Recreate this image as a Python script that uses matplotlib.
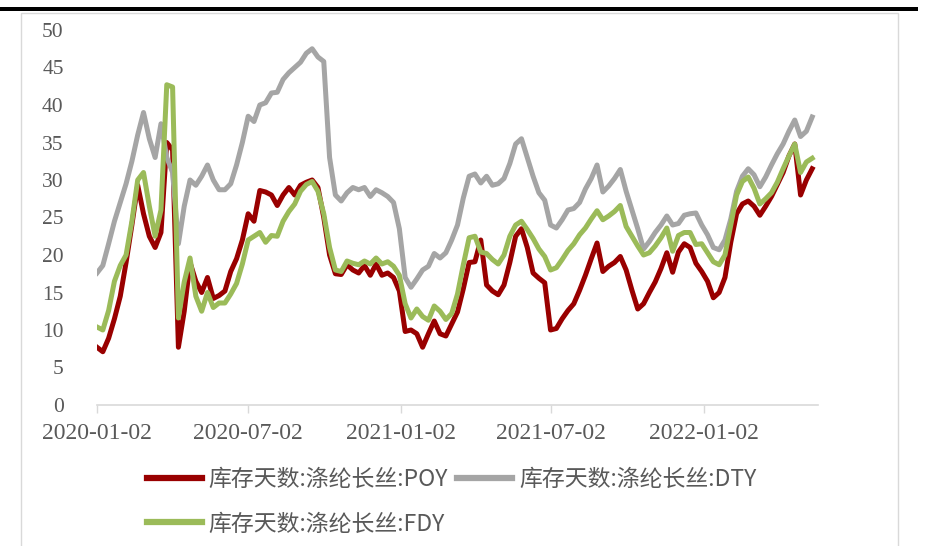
import numpy as np
import pandas as pd
import matplotlib
matplotlib.use("Agg")
import matplotlib.pyplot as plt
import matplotlib.dates as mdates
from matplotlib.lines import Line2D
from matplotlib.patches import Rectangle

# weekly observations starting 2020-01-02
dates = pd.date_range("2020-01-02", periods=124, freq="7D")

poy = [7.7, 7.1, 8.9, 11.5, 14.5, 19, 24, 29.3, 25.5, 22.5,
       21, 23, 35, 34, 7.7, 12.5, 19, 16.5, 15, 17,
       14.2, 14.6, 15.2, 17.8, 19.5, 22, 25.5, 24.5, 28.6, 28.4,
       28, 26.6, 28, 29, 28, 29.3, 29.7, 30, 29, 25,
       20, 17.5, 17.4, 18.7, 18, 17.6, 18.6, 17.3, 18.8, 17.3,
       17.6, 17, 15.2, 9.8, 10, 9.5, 7.7, 9.5, 11.2, 9.5,
       9.2, 10.8, 12.4, 15.5, 19, 19.1, 22, 16, 15.2, 14.7,
       16, 19, 22.5, 23.5, 21, 17.6, 16.9, 16.3, 10, 10.2,
       11.5, 12.6, 13.5, 15.3, 17.3, 19.5, 21.6, 17.8, 18.5, 19,
       19.8, 18, 15.3, 12.8, 13.5, 15, 16.4, 18.2, 20.3, 17.7,
       20.4, 21.5, 21, 18.9, 17.8, 16.5, 14.3, 15, 17, 21.7,
       25.5, 26.8, 27.2, 26.5, 25.3, 26.5, 27.8, 29.4, 31, 33.2,
       34.8, 28, 30, 31.5]

dty = [17.6, 18.6, 21.5, 24.5, 27, 29.5, 32.5, 36, 39, 35.5,
       33, 37.5, 33, 31, 21.5, 26.5, 30, 29.3, 30.5, 32,
       30, 28.7, 28.7, 29.5, 32, 35, 38.5, 37.8, 40, 40.3,
       41.6, 41.7, 43.4, 44.3, 45, 45.7, 46.9, 47.5, 46.4, 45.8,
       33, 28, 27.2, 28.3, 29, 28.7, 29, 27.8, 28.7, 28.3,
       27.8, 27, 23.5, 17, 15.7, 16.8, 18, 18.5, 20.2, 19.6,
       20.3, 22, 24, 27.6, 30.5, 30.8, 29.6, 30.5, 29.3, 29.5,
       30.2, 32.2, 34.8, 35.5, 33, 30.5, 28.3, 27.3, 24, 23.6,
       24.7, 26, 26.2, 27, 28.8, 30.2, 32, 28.4, 29.2, 30.2,
       31.4, 28.5, 26, 23.5, 20.8, 21.8, 23, 24, 25.2, 24,
       24.2, 25.3, 25.5, 25.6, 24, 22.7, 21, 20.7, 22, 24.8,
       28.5, 30.5, 31.5, 30.7, 29.1, 30.4, 32, 33.5, 34.8, 36.5,
       38, 35.8, 36.5, 38.4]

fdy = [10.4, 10, 12.6, 16.5, 18.6, 20, 24.5, 30, 31, 26.5,
       22.5, 26, 42.7, 42.4, 11.6, 16.4, 19.6, 14.5, 12.5, 15,
       13, 13.6, 13.6, 14.8, 16.2, 18.8, 22, 22.5, 23, 21.7,
       22.6, 22.5, 24.5, 25.8, 26.8, 28.5, 29.4, 29.8, 28.5, 25.5,
       21, 18, 17.8, 19.2, 18.9, 18.7, 19.2, 18.8, 19.6, 18.8,
       19.1, 18.5, 17.3, 13.5, 11.6, 12.8, 11.8, 11.3, 13.2, 12.5,
       11.4, 12.2, 14.8, 18.7, 22.3, 22.5, 20.4, 20.2, 19.4, 18.8,
       20, 22.5, 24, 24.5, 23.4, 22.2, 20.8, 19.8, 18, 18.3,
       19.4, 20.6, 21.5, 22.7, 23.6, 24.8, 25.9, 24.7, 25.2, 25.8,
       26.6, 23.8, 22.5, 21.2, 20, 20.3, 21.2, 22.3, 23.6, 20.5,
       22.6, 23, 23, 21.4, 21.5, 20.3, 19.1, 18.7, 20, 24,
       28, 29.8, 30.4, 28.9, 26.8, 27.5, 28.3, 29.7, 31.5, 33.2,
       34.8, 31, 32.4, 32.9]

labels = ["库存天数:涤纶长丝:POY", "库存天数:涤纶长丝:DTY", "库存天数:涤纶长丝:FDY"]
colors = ["#990000", "#A5A5A5", "#9BBB59"]
xticks = ["2020-01-02", "2020-07-02", "2021-01-02", "2021-07-02", "2022-01-02"]
yticks = list(range(0, 51, 5))

W, H = 927, 546
fig = plt.figure(figsize=(W / 100, H / 100), dpi=100)

# outer light frame + black bar on top
fig.add_artist(Rectangle((21 / W, -0.05), (898 - 21) / W, 1 - 12.5 / H + 0.05,
                         transform=fig.transFigure, fill=False,
                         edgecolor="#d9d9d9", lw=1))
fig.add_artist(Rectangle((0, 1 - 11 / H), 918 / W, 4 / H,
                         transform=fig.transFigure, facecolor="black",
                         edgecolor="none"))

ax = fig.add_axes([97 / W, 1 - 405 / H, (818 - 97) / W, (405 - 30) / H])

for vals, lab, c in zip([poy, dty, fdy], labels, colors):
    ax.plot(dates, vals, color=c, lw=3.6, label=lab, solid_joinstyle="round")

ax.set_ylim(0, 50)
ax.set_xlim(pd.Timestamp("2020-01-02"), dates[-1] + pd.Timedelta(days=7))
ax.set_yticks(yticks)
ax.set_xticks(pd.to_datetime(xticks))
ax.xaxis.set_major_formatter(mdates.DateFormatter("%Y-%m-%d"))

serif = ["Liberation Serif", "DejaVu Serif"]
for t in ax.get_yticklabels():
    t.set_fontfamily(serif)
    t.set_fontsize(15.5)
    t.set_color("#595959")
for t in ax.get_xticklabels():
    t.set_fontfamily(serif)
    t.set_fontsize(17)
    t.set_color("#595959")

ax.tick_params(axis="y", length=0, pad=24)
ax.tick_params(axis="x", length=6, width=1, color="#d9d9d9", pad=7)
for s in ["top", "right", "left"]:
    ax.spines[s].set_visible(False)
ax.spines["bottom"].set_color("#d9d9d9")
ax.spines["bottom"].set_linewidth(1.2)

# column-major fill: POY / FDY in column 1, DTY in column 2
order = [0, 2, 1]
handles = [Line2D([0], [0], color=colors[i], lw=4.5) for i in order]
fig.legend(handles, [labels[i] for i in order], loc="upper left", ncol=2,
           bbox_to_anchor=(126 / W, 1 - 447 / H), frameon=False,
           prop={"family": ["Noto Sans CJK SC", "DejaVu Sans"], "size": 16.5},
           labelcolor="#595959", handlelength=2.4, handletextpad=0.3,
           columnspacing=0.4, labelspacing=0.95)

fig.savefig("out.png", dpi=100, facecolor="white")
